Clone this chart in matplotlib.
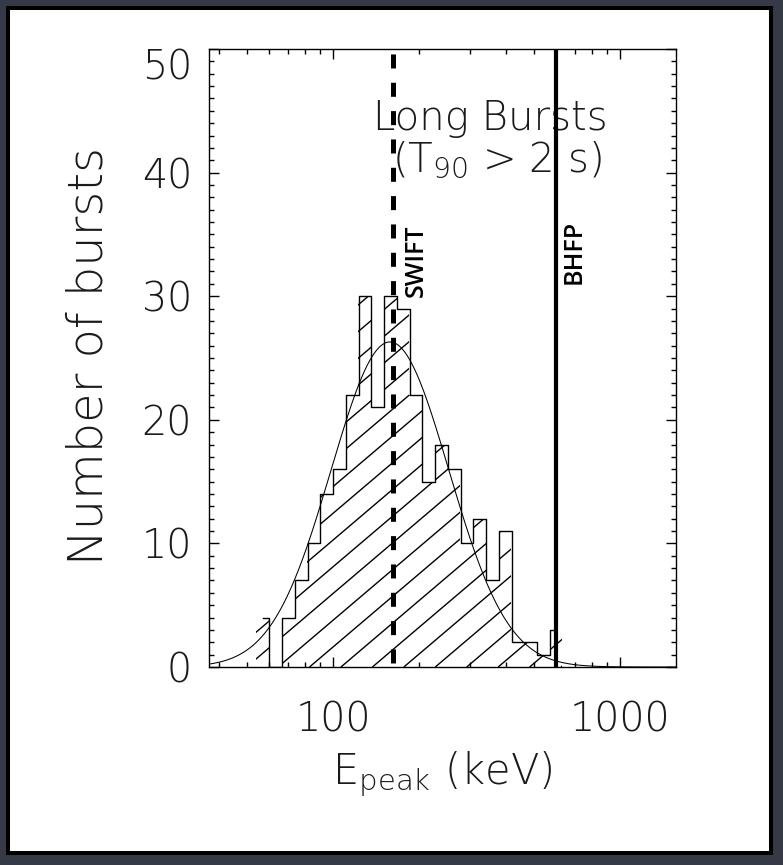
import numpy as np
import matplotlib
matplotlib.use('Agg')
import matplotlib.pyplot as plt
from matplotlib import font_manager as fm
from matplotlib.patches import Rectangle
from matplotlib.collections import LineCollection
from matplotlib.ticker import LogLocator, NullFormatter, MultipleLocator
from matplotlib.transforms import ScaledTranslation

# ---------------- data ----------------
BIN_EDGES_KEV = [54.15, 59.98, 66.44, 73.59, 81.52, 90.29, 100.0, 110.77,
                 122.70, 135.91, 150.55, 166.76, 184.72, 204.61, 226.65,
                 251.06, 278.10, 308.05, 341.23, 377.98, 418.69, 463.78,
                 513.73, 569.06, 630.35]
BURST_COUNTS = [4, 0, 4, 7, 10, 14, 16, 22, 30, 21, 30, 29, 22, 15, 18, 16,
                10, 12, 7, 11, 2, 2, 1, 3]
FIT_PEAK_KEV = 158.0
FIT_SIGMA_DEX = 0.205
FIT_AMPLITUDE = 26.3
SWIFT_KEV = 161.5
BHFP_KEV = 597.0
X_TICKS = [100, 1000]
X_TICK_LABELS = ['100', '1000']
Y_TICKS = [0, 10, 20, 30, 40, 50]
Y_TICK_LABELS = ['0', '10', '20', '30', '40', '50']
X_LIMITS = (37.0, 1568.0)
Y_LIMITS = (0, 50)


def pick_light_font():
    order = ['DejaVu Sans', 'Open Sans', 'Noto Sans', 'Lato', 'Roboto',
             'Inter', 'Liberation Sans']
    found = {}
    for f in fm.fontManager.ttflist:
        w = f.weight
        if not isinstance(w, (int, float)):
            w = fm.weight_dict.get(w, 400)
        if f.style != 'normal':
            continue
        if f.stretch not in ('normal', 400, 'medium'):
            continue
        if 150 <= w <= 300:
            found.setdefault(f.name, []).append((abs(w - 200), f.fname, int(w)))
    for name in order:
        if name in found:
            c = sorted(found[name])[0]
            return name, c[2]
    return 'DejaVu Sans', 'normal'


font_name, font_w = pick_light_font()
plt.rcParams['font.family'] = [font_name, 'DejaVu Sans']
plt.rcParams['font.weight'] = font_w
plt.rcParams['axes.labelweight'] = font_w
plt.rcParams['lines.scale_dashes'] = False
TXT = '#1a1a1a'

W, H = 783, 865
fig = plt.figure(figsize=(W / 100, H / 100), dpi=100)
fig.patch.set_facecolor('#363a46')
panel = Rectangle((8 / W, (H - 853) / H), (771 - 8) / W, (853 - 8) / H,
                  transform=fig.transFigure, facecolor='white',
                  edgecolor='black', linewidth=2.9, zorder=-5)
fig.patches.append(panel)

ax_l, ax_r, ax_t, ax_b = 209, 676, 49, 667
ax = fig.add_axes([ax_l / W, (H - ax_b) / H, (ax_r - ax_l) / W, (ax_b - ax_t) / H])
ax.set_zorder(1)
ax.set_facecolor('white')
ax.set_xscale('log')
ax.set_xlim(*X_LIMITS)
ax.set_ylim(*Y_LIMITS)

edges = np.array(BIN_EDGES_KEV)
counts = np.array(BURST_COUNTS)
centers = np.sqrt(edges[:-1] * edges[1:])

# filled region (invisible) used for hatching
fill_patch = ax.stairs(counts, edges, baseline=0, fill=True,
                       facecolor='none', edgecolor='none', zorder=1)

# custom hatch lines (~40 deg, wide spacing) clipped to histogram
ax_w_px = ax_r - ax_l
ax_h_px = ax_b - ax_t
hatch_x0, hatch_dx, slope = 309.5, 31.45, 0.85
segs = []
for n in range(-40, 25):
    x0 = (hatch_x0 + n * hatch_dx - ax_l) / ax_w_px
    x1 = x0 + (ax_h_px / slope) / ax_w_px
    segs.append([(x0, 0.0), (x1, 1.0)])
lc = LineCollection(segs, colors='black', linewidths=1.0,
                    transform=ax.transAxes, zorder=2)
ax.add_collection(lc, autolim=False)
lc.set_clip_path(fill_patch)

# histogram outline (IDL psym=10 style)
ax.plot(centers, counts, drawstyle='steps-mid', color='black', lw=1.0, zorder=3)

# Gaussian fit in log space
xg = np.logspace(np.log10(X_LIMITS[0]), np.log10(X_LIMITS[1]), 600)
yg = FIT_AMPLITUDE * np.exp(-0.5 * ((np.log10(xg) - np.log10(FIT_PEAK_KEV)) / FIT_SIGMA_DEX) ** 2)
ax.plot(xg, yg, color='black', lw=0.75, zorder=3)

# SWIFT dashed and BHFP solid lines
ax.axvline(SWIFT_KEV, color='black', lw=3.6,
           linestyle=(17.5, (10.1, 10.3)), zorder=4)
ax.axvline(BHFP_KEV, color='black', lw=3.0, zorder=4)

LBL_FONT = dict(family=['Open Sans', 'DejaVu Sans'], weight=600, fontsize=18,
                color='black', rotation=90, ha='center', va='center', zorder=5)
ax.text(196, 32.9, 'SWIFT', **LBL_FONT)
ax.text(695, 33.6, 'BHFP', **LBL_FONT)

# title text
ax.text((490 - ax_l) / ax_w_px, (ax_b - 130) / ax_h_px, 'Long Bursts',
        transform=ax.transAxes, ha='center', va='baseline', fontsize=29, color=TXT)
ax.text((497 - ax_l) / ax_w_px, (ax_b - 171) / ax_h_px,
        r'($\mathregular{T_{90}}$ > 2 s)',
        transform=ax.transAxes, ha='center', va='baseline', fontsize=29, color=TXT)

# ticks
ax.set_xticks(X_TICKS, X_TICK_LABELS)
ax.xaxis.set_minor_locator(LogLocator(base=10, subs=np.arange(2, 10)))
ax.xaxis.set_minor_formatter(NullFormatter())
ax.set_yticks(Y_TICKS, Y_TICK_LABELS)
ax.yaxis.set_minor_locator(MultipleLocator(1))
ax.tick_params(which='both', direction='in', top=True, right=True,
               labelsize=28.5, labelcolor=TXT, width=1.0, color='black')
ax.tick_params(which='major', length=7.5)
ax.tick_params(which='minor', length=3.6)
ax.tick_params(axis='x', which='major', pad=24.0)
ax.tick_params(axis='y', which='major', pad=12.2)
for s in ax.spines.values():
    s.set_linewidth(1.0)

# axis labels
ax.set_xlabel(r'$\mathregular{E_{peak}}$ (keV)', fontsize=30, color=TXT,
              fontweight=font_w)
ax.xaxis.label.set_va('baseline')
ax.xaxis.set_label_coords(0.5, (ax_b - 785) / ax_h_px)
ax.set_ylabel('Number of bursts', fontsize=34.5, color=TXT, fontweight=font_w)
ax.yaxis.label.set_va('baseline')
ax.yaxis.set_label_coords((103 - ax_l) / ax_w_px, (ax_b - 356) / ax_h_px)

# top label sits just inside the frame in the original
lbl50 = ax.get_yticklabels()[-1]
lbl50.set_transform(lbl50.get_transform() +
                    ScaledTranslation(0, -11 / 72, fig.dpi_scale_trans))

fig.savefig('out.png', dpi=100, facecolor=fig.get_facecolor())
